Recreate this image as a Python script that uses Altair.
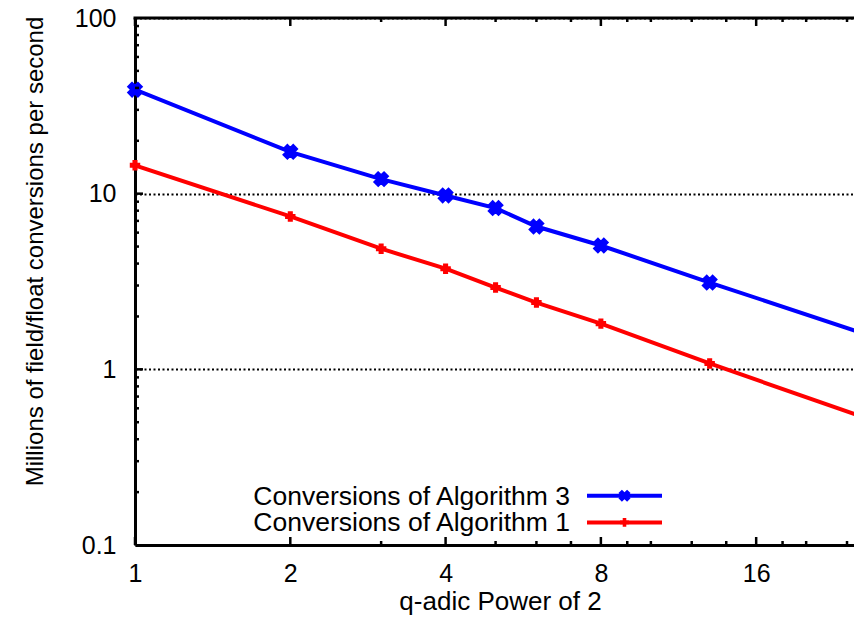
import altair as alt
import pandas as pd

# ---- data ----
x_vals = [1, 2, 3, 4, 5, 6, 8, 13, 32]
alg3 = [39.1, 17.3, 12.1, 9.77, 8.28, 6.50, 5.07, 3.12, 1.30]
alg1 = [14.5, 7.42, 4.86, 3.74, 2.92, 2.40, 1.82, 1.08, 0.428]
series_names = ["Conversions of Algorithm 3", "Conversions of Algorithm 1"]
series_colors = ["#0000ff", "#ff0000"]

x_major = [1, 2, 4, 8, 16]
x_minor = [3, 5, 6, 7, 9, 10, 12, 14, 18, 20, 24]
y_labels = [0.1, 1, 10, 100]
y_major_inner = [1, 10]
y_minor = [m * d for d in (0.1, 1, 10) for m in range(2, 10)]

X_MAX = 24.76
W, H = 719, 527
FONT = "Liberation Sans"

rows = []
for name, vals in zip(series_names, (alg3, alg1)):
    for xv, yv in zip(x_vals, vals):
        rows.append({"x": xv, "y": yv, "series": name})
df = pd.DataFrame(rows)

xscale = alt.Scale(type="log", base=2, domain=[1, X_MAX], nice=False)
yscale = alt.Scale(type="log", domain=[0.1, 100], nice=False)
cscale = alt.Scale(domain=series_names, range=series_colors)

x_axis = alt.Axis(
    values=x_major, format="~g", labelFontSize=25, labelPadding=16,
    labelColor="black", domainColor="black", domainWidth=3, ticks=False,
    grid=False, title="q-adic Power of 2", titleFontSize=26,
    titleFontWeight="normal", titleColor="black", titleX=365, titleY=64,
    titleAlign="center", titleBaseline="alphabetic", labelFlush=False,
)
y_axis = alt.Axis(
    values=y_labels, format="~g", labelFontSize=25, labelPadding=19,
    labelColor="black", domainColor="black", domainWidth=3, ticks=False,
    grid=True, gridColor="black", gridDash=[2, 2.5], gridWidth=1.8,
    gridOpacity=1, title="Millions of field/float conversions per second",
    titleFontSize=24, titleFontWeight="normal", titleColor="black",
    titleAngle=270, titleX=-93, titleY=233, titleAlign="center",
    titleBaseline="alphabetic", labelFlush=False,
)

X = alt.X("x:Q", scale=xscale, axis=x_axis)
Y = alt.Y("y:Q", scale=yscale, axis=y_axis)

lines = alt.Chart(df).mark_line(strokeWidth=4, clip=True).encode(
    x=X, y=Y,
    color=alt.Color("series:N", scale=cscale, legend=None),
    detail="series:N",
)

pts3 = alt.Chart(df).transform_filter(
    f"datum.x <= {X_MAX} && datum.series == '{series_names[0]}'"
).mark_point(shape="cross", angle=45, filled=True, size=190, opacity=1,
             stroke="#0000ff", strokeWidth=2).encode(
    x=X, y=Y,
    color=alt.Color("series:N", scale=cscale, legend=None),
)
pts1 = alt.Chart(df).transform_filter(
    f"datum.x <= {X_MAX} && datum.series == '{series_names[1]}'"
).mark_point(shape="cross", filled=True, size=80, opacity=1,
             stroke="#ff0000", strokeWidth=1.5).encode(
    x=X, y=Y,
    color=alt.Color("series:N", scale=cscale, legend=None),
)

def xticks(values, length):
    d = pd.DataFrame({"x": values})
    bottom = alt.Chart(d).mark_rule(color="black", strokeWidth=2.5).encode(
        x=X, y=alt.value(H), y2=alt.value(H - length))
    top = alt.Chart(d).mark_rule(color="black", strokeWidth=2.5).encode(
        x=X, y=alt.value(0), y2=alt.value(length))
    return [bottom, top]

def yticks(values, length):
    d = pd.DataFrame({"y": values})
    return [alt.Chart(d).mark_rule(color="black", strokeWidth=2.5).encode(
        y=Y, x=alt.value(0), x2=alt.value(length))]

tick_layers = (xticks(x_major, 8) + xticks(x_minor, 4)
               + yticks(y_major_inner, 8) + yticks(y_minor, 4))

top_border = alt.Chart(pd.DataFrame({"a": [0]})).mark_rule(
    color="black", strokeWidth=3, strokeCap="square").encode(
    x=alt.value(0), x2=alt.value(W), y=alt.value(0))

legend_layers = []
for i, (name, col) in enumerate(zip(series_names, series_colors)):
    ly = 477.7 + i * 26.7
    d = pd.DataFrame({"label": [name]})
    legend_layers.append(alt.Chart(d).mark_text(
        align="right", baseline="middle", fontSize=26.5, font=FONT,
        color="black").encode(text="label:N", x=alt.value(435),
                              y=alt.value(ly + 1)))
    legend_layers.append(alt.Chart(d).mark_rule(
        color=col, strokeWidth=4).encode(
        x=alt.value(452), x2=alt.value(527), y=alt.value(ly)))
    legend_layers.append(alt.Chart(d).mark_point(
        shape="cross", angle=45 if i == 0 else 0, filled=True,
        size=150 if i == 0 else 80, color=col, opacity=1).encode(
        x=alt.value(489.5), y=alt.value(ly)))

chart = alt.layer(
    lines, pts3, pts1, *tick_layers, top_border, *legend_layers
).properties(
    width=W, height=H,
    autosize=alt.AutoSizeParams(type="none"),
    padding={"left": 127, "top": 10, "right": 0, "bottom": 72},
).configure(font=FONT).configure_view(stroke=None)

chart.save("out.html", embed_options={"renderer": "svg", "actions": False})
